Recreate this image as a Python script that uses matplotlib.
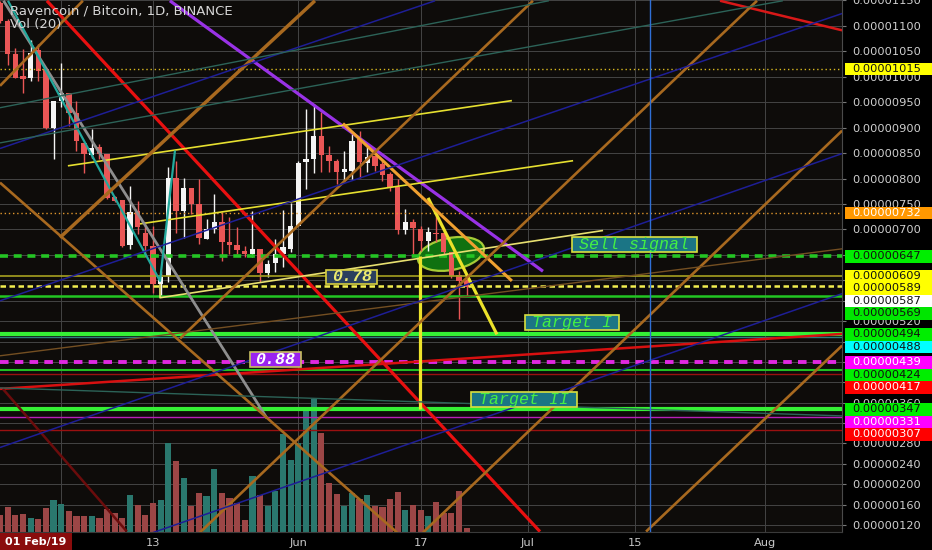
import numpy as np
import pandas as pd
import matplotlib
matplotlib.use("Agg")
import matplotlib.pyplot as plt
import matplotlib.dates as mdates
from matplotlib.patches import Rectangle, Ellipse
from matplotlib import transforms

# ---------------- data (prices in satoshi = 1e-8 BTC) ----------------
candle_dates = pd.date_range("2019-04-23", periods=62, freq="D")
opens = [1145, 1110, 1045, 1002, 998, 1053, 1016, 900, 953, 967,
         929, 870, 847, 861, 849, 764, 758, 670, 737, 694,
         668, 593, 609, 802, 737, 781, 750, 682, 700, 715,
         675, 670, 657, 652, 662, 614, 634, 651, 662, 707,
         832, 838, 884, 846, 835, 813, 815, 878, 830, 845,
         829, 809, 783, 699, 715, 701, 678, 694, 694, 655,
         611, 601]
highs = [1149, 1114, 1057, 1055, 1071, 1065, 1016, 953, 1027, 967,
         953, 870, 898, 868, 849, 766, 758, 786, 756, 714,
         707, 619, 822, 835, 802, 782, 800, 721, 770, 734,
         725, 704, 668, 737, 662, 641, 682, 739, 751, 835,
         937, 947, 930, 864, 839, 855, 887, 894, 861, 845,
         838, 812, 799, 740, 721, 707, 704, 737, 696, 656,
         619, 603]
lows = [1106, 1022, 998, 968, 992, 992, 898, 839, 941, 904,
        855, 811, 841, 839, 760, 754, 666, 662, 692, 645,
        576, 567, 596, 694, 684, 731, 672, 682, 694, 639,
        652, 652, 645, 645, 596, 606, 616, 626, 655, 707,
        780, 810, 812, 812, 789, 796, 799, 802, 812, 815,
        796, 776, 691, 691, 652, 658, 658, 675, 645, 605,
        525, 570]
closes = [1110, 1045, 998, 996, 1047, 1012, 900, 953, 967, 929,
          874, 849, 859, 849, 762, 756, 668, 735, 704, 668,
          593, 606, 802, 737, 781, 750, 684, 700, 715, 675,
          670, 660, 652, 662, 614, 632, 651, 665, 707, 831,
          838, 884, 847, 835, 812, 819, 874, 832, 843, 825,
          806, 783, 698, 714, 703, 678, 696, 691, 655, 609,
          599, 587]
volumes = [16.5, 24.8, 17.2, 18.2, 13.8, 12.5, 23.8, 31.5, 28.2, 20.5,
           15.8, 15.8, 15.8, 13.8, 22.5, 18.8, 13.8, 36.5, 26.5, 17.2,
           29.2, 32.2, 88.8, 70.8, 53.2, 25.8, 39.2, 35.5, 62.2, 39.2,
           34.2, 28.8, 11.5, 55.5, 36.8, 25.5, 40.5, 97.5, 71.5, 88.2,
           121.5, 132.2, 98.8, 49.2, 38.2, 25.5, 39.2, 33.2, 36.5, 25.8,
           24.8, 32.5, 39.8, 22.2, 27.2, 22.2, 15.5, 29.8, 18.8, 18.5,
           40.5, 3.5]

level_prices = [1015, 732, 647, 609, 589, 569, 494, 488, 439, 424, 417, 347, 331, 307]
label_prices = [1015, 732, 647, 609, 589, 587, 569, 494, 488, 439, 424, 417, 347, 331, 307]

price_ticks = [1150, 1100, 1050, 1000, 950, 900, 850, 800, 750, 700, 650, 600,
               560, 520, 480, 440, 400, 360, 320, 280, 240, 200, 160, 120]
date_ticks = ["2019-05-01", "2019-05-13", "2019-06-01", "2019-06-17",
              "2019-07-01", "2019-07-15", "2019-08-01"]
date_tick_labels = ["May", "13", "Jun", "17", "Jul", "15", "Aug"]

# drawn trend lines: (time, price) anchor points
trend_lines = {
    "red_main":   [("2019-04-29 03:00", 1149), ("2019-07-02 14:00", 107)],
    "red_top":    [("2019-07-26 03:00", 1149), ("2019-08-11 02:00", 1091)],
    "red_low":    [("2019-04-23 00:00", 387), ("2019-08-11 02:00", 495)],
    "red_dark":   [("2019-04-23 09:00", 387), ("2019-05-09 14:00", 107)],
    "purple":     [("2019-05-15 05:00", 1149), ("2019-07-02 23:30", 618)],
    "yel_up":     [("2019-05-01 21:00", 825), ("2019-06-28 22:00", 953)],
    "yel_mid":    [("2019-05-11 07:00", 711), ("2019-07-06 22:00", 835)],
    "yel_low":    [("2019-05-13 22:00", 593), ("2019-05-13 22:00", 566), ("2019-07-10 20:00", 698)],
    "yel_vert":   [("2019-06-16 21:00", 647), ("2019-06-16 21:00", 347)],
    "yel_diag":   [("2019-06-17 23:00", 762), ("2019-06-26 23:00", 494)],
    "orange_pk":  [("2019-06-06 20:00", 908), ("2019-06-28 22:00", 599)],
    "gray":       [("2019-04-23 11:00", 1149), ("2019-05-27 22:00", 329)],
    "teal":       [("2019-04-24 01:00", 1149), ("2019-05-13 22:00", 599), ("2019-05-15 21:00", 855)],
    "or_a1":      [("2019-04-23 00:00", 982), ("2019-05-03 20:00", 1149)],
    "or_a2":      [("2019-04-30 20:00", 684), ("2019-06-03 04:00", 1149)],
    "or_a3":      [("2019-05-16 13:00", 486), ("2019-07-01 16:00", 1149)],
    "or_a4":      [("2019-05-19 03:00", 105), ("2019-07-30 23:00", 1149)],
    "or_a5":      [("2019-07-16 11:00", 107), ("2019-08-11 02:00", 472)],
    "or_a6":      [("2019-06-17 07:00", 105), ("2019-08-11 02:00", 894)],
    "or_d1":      [("2019-04-23 00:00", 792), ("2019-06-13 22:00", 105)],
    "brown_thin": [("2019-04-23 00:00", 452), ("2019-08-11 02:00", 662)],
    "blue1":      [("2019-04-23 00:00", 859), ("2019-06-18 21:00", 1149)],
    "blue2":      [("2019-04-23 00:00", 560), ("2019-08-11 02:00", 1124)],
    "blue3":      [("2019-04-23 00:00", 272), ("2019-08-11 02:00", 849)],
    "blue4":      [("2019-05-13 00:00", 105), ("2019-08-11 02:00", 574)],
    "tealthin1":  [("2019-04-23 00:00", 939), ("2019-07-03 18:00", 1149)],
    "tealthin2":  [("2019-04-23 00:00", 870), ("2019-08-03 08:00", 1149)],
    "tealthin3":  [("2019-04-23 00:00", 389), ("2019-08-11 02:00", 334)],
}
vline_date = "2019-07-17"
ellipse_center = ("2019-06-20 23:00", 652)

notes = [  # text, time, price
    ("0.78", "2019-06-08 00:00", 607),
    ("0.88", "2019-05-28 23:00", 444),
    ("Sell signal", "2019-07-14 22:30", 671),
    ("Target I", "2019-07-06 18:30", 517),
    ("Target II", "2019-06-30 13:30", 367),
]

# ---------------- styles ----------------
W, H, DPI = 932, 550, 100
BG = "#0e0c0a"
AX_L, AX_R, AX_B = 0, 842, 18          # pixel layout
YTOP, YBOT = 1150.5, 106.1
X_LEFT, X_RIGHT = "2019-04-23 00:00", "2019-08-11 01:40"

OR = "#a8691f"
BL = "#1e1e96"
line_styles = {
    "red_main": ("#e81010", 2.3), "red_top": ("#d81818", 1.8), "red_low": ("#d81010", 1.8),
    "red_dark": ("#6b0c0c", 1.8), "purple": ("#9932e6", 2.3),
    "yel_up": ("#e6e030", 1.2), "yel_mid": ("#e6e030", 1.2), "yel_low": ("#e8e070", 1.2),
    "yel_vert": ("#ece22a", 2.3), "yel_diag": ("#ece22a", 2.3), "orange_pk": ("#f0a030", 2.2),
    "gray": ("#8e8e8e", 2.0), "teal": ("#22a89c", 1.6),
    "or_a1": (OR, 1.9), "or_a2": (OR, 2.5), "or_a3": (OR, 1.9),
    "or_a4": (OR, 1.9), "or_a5": (OR, 1.9), "or_a6": (OR, 1.9),
    "or_d1": (OR, 1.9), "brown_thin": ("#744f22", 1.0),
    "blue1": (BL, 1.1), "blue2": (BL, 1.1), "blue3": (BL, 1.1), "blue4": (BL, 1.1),
    "tealthin1": ("#2c6358", 1.0), "tealthin2": ("#2c6358", 1.0), "tealthin3": ("#2c6358", 1.0),
}
level_styles = [
    ("#d8b820", 1.0, (0, (1, 2))), ("#e0962c", 1.0, (0, (1, 2))),
    ("#24c424", 2.6, (0, (2.2, 1.6))), ("#a6a020", 1.2, "-"),
    ("#f2ee50", 1.8, (0, (2.2, 1.4))), ("#22c622", 1.8, "-"),
    ("#35f035", 3.0, "-"), ("#2f7f7f", 1.0, "-"),
    ("#e028e0", 2.8, (0, (2.2, 1.6))), ("#22c022", 1.5, "-"),
    ("#9a1010", 1.0, "-"), ("#35f035", 3.0, "-"),
    ("#b820b8", 1.0, "-"), ("#9a1010", 1.0, "-"),
]
label_colors = [
    ("#ffff00", "#111111"), ("#ff9800", "#ffffff"), ("#00ee00", "#111111"),
    ("#ffff00", "#111111"), ("#ffff00", "#111111"), ("#ffffff", "#111111"),
    ("#00e600", "#111111"), ("#00ee00", "#111111"), ("#00ffff", "#111111"),
    ("#ff00ff", "#ffffff"), ("#00ee00", "#111111"), ("#ff0000", "#ffffff"),
    ("#00ee00", "#111111"), ("#ff00ff", "#ffffff"), ("#ff0000", "#ffffff"),
]
note_styles = [  # box w, box h (px), face, edge, text color, bold
    (51, 14, "#2b3f5e", "#d8d040", "#ecea70", True),
    (51, 15, "#9a22f0", "#c8c060", "#ffffff", True),
    (125, 15, "#1b7585", "#d8e040", "#44f044", False),
    (94, 15, "#1b7585", "#d8e040", "#44f044", False),
    (106, 15, "#1b7585", "#d8e040", "#44f044", False),
]

# ---------------- figure ----------------
fig = plt.figure(figsize=(W / DPI, H / DPI), dpi=DPI, facecolor="#000000")
ax = fig.add_axes([AX_L / W, AX_B / H, (AX_R - AX_L) / W, (H - AX_B) / H])
ax.set_facecolor(BG)
ax.set_xlim(mdates.date2num(pd.Timestamp(X_LEFT)), mdates.date2num(pd.Timestamp(X_RIGHT)))
ax.set_ylim(YBOT, YTOP)
ax.set_autoscale_on(False)

def tnum(s):
    return mdates.date2num(pd.Timestamp(s))

xs = mdates.date2num(candle_dates)
o, h, l, c = map(np.array, (opens, highs, lows, closes))
up = c >= o

# grid
ax.set_axisbelow(True)
ax.grid(True, color="#444444", lw=0.7)

# volume overlay (bottom ~25% of pane)
vol = np.array(volumes)
vol_top = vol.max() * 4.0
vtrans = transforms.blended_transform_factory(ax.transData, ax.transAxes)
ax.bar(xs, vol / vol_top, width=0.8, bottom=0,
       color=np.where(up, "#2a786e", "#9c4646"), transform=vtrans, zorder=1, lw=0)

# ellipse (size in inches at data position), under the candles
etr = fig.dpi_scale_trans + transforms.ScaledTranslation(
    tnum(ellipse_center[0]), ellipse_center[1], ax.transData)
ax.add_patch(Ellipse((0, 0), 0.67, 0.32, angle=11, transform=etr,
                     fc="#117d11", ec="#b8dc3c", lw=1.6, alpha=0.9, zorder=2.5))

# candles
ccol = np.where(up, "#f4f4f4", "#ea5656")
ax.vlines(xs, l, h, colors=ccol, lw=1.0, zorder=3)
body = np.maximum(np.abs(c - o), 2)
ax.bar(xs, body, bottom=np.minimum(o, c), width=0.7, color=ccol, lw=0, zorder=3)

# horizontal levels
for p, (col, lw, ls) in zip(level_prices, level_styles):
    ax.axhline(p, color=col, lw=lw, ls=ls, zorder=4)

# trend lines
for name, pts in trend_lines.items():
    col, lw = line_styles[name]
    ax.plot([tnum(t) for t, _ in pts], [p for _, p in pts], color=col, lw=lw,
            solid_capstyle="butt", zorder=5)

# vertical blue line
ax.axvline(tnum(vline_date), color="#2f6fd6", lw=1.0, zorder=5)

# note boxes
for (txt, t, p), (bw, bh, fc, ec, tc, bold) in zip(notes, note_styles):
    tr = fig.dpi_scale_trans + transforms.ScaledTranslation(tnum(t), p, ax.transData)
    ax.add_patch(Rectangle((-bw / 2 / DPI, -bh / 2 / DPI), bw / DPI, bh / DPI,
                           transform=tr, fc=fc, ec=ec, lw=1.2, zorder=7))
    ax.text(tnum(t), p, txt, ha="center", va="center", color=tc, fontsize=12,
            family="Liberation Mono", style="italic",
            fontweight="bold" if bold else "normal", zorder=8)

# right-scale colored price labels, pushed apart like the platform does
px_per_sat = (H - AX_B) / (YTOP - YBOT)
box_h = 12.5
order = np.argsort(label_prices)[::-1]
last_y = -1e9
label_y = {}
for i in order:
    y = (YTOP - label_prices[i]) * px_per_sat
    y = max(y, last_y + box_h)
    last_y = y
    label_y[i] = y

# axes cosmetics
for s in ("top", "left"):
    ax.spines[s].set_visible(False)
ax.spines["right"].set_color("#4a4a4a")
ax.spines["bottom"].set_color("#3a3a3a")
ax.yaxis.tick_right()
ax.set_yticks(price_ticks)
tick_text = []
for v in price_ticks:
    ty = (YTOP - v) * px_per_sat
    hidden = any(abs(ty - yy) < box_h * 0.45 for yy in label_y.values())
    tick_text.append("" if hidden else f"{v * 1e-8:.8f}")
ax.set_yticklabels(tick_text)
ax.tick_params(axis="y", length=3, width=0.8, color="#777777", pad=4.5,
               labelsize=8.2, labelcolor="#cfcfcf")
ax.set_xticks([tnum(d) for d in date_ticks])
ax.set_xticklabels(date_tick_labels)
ax.tick_params(axis="x", length=0, pad=4.5, labelsize=8.2, labelcolor="#c8c8c8")

# legend text
ax.text(10 / (AX_R - AX_L), 1 - 11 / (H - AX_B), "Ravencoin / Bitcoin, 1D, BINANCE",
        transform=ax.transAxes, color="#d6d6d6", fontsize=9.5, va="center", ha="left", zorder=9)
ax.text(10 / (AX_R - AX_L), 1 - 24.5 / (H - AX_B), "Vol (20)",
        transform=ax.transAxes, color="#d6d6d6", fontsize=9.5, va="center", ha="left", zorder=9)

for i, y in label_y.items():
    bg, fg = label_colors[i]
    fy = 1 - y / H
    fig.add_artist(Rectangle((845 / W, fy - box_h / 2 / H), (W - 845) / W, box_h / H,
                             transform=fig.transFigure, fc=bg, ec="none", zorder=11))
    fig.text(852.5 / W, fy, f"{label_prices[i] * 1e-8:.8f}", color=fg, fontsize=8.2,
             ha="left", va="center", zorder=12)

# bottom-left date cursor label
fig.add_artist(Rectangle((0, 0), 72 / W, 17 / H, transform=fig.transFigure,
                         fc="#8a0c0c", ec="none", zorder=11))
fig.text(36 / W, 8.5 / H, "01 Feb/19", color="#ffffff", fontsize=8, fontweight="bold",
         ha="center", va="center", zorder=12)

fig.savefig("out.png", dpi=DPI, facecolor=fig.get_facecolor())
